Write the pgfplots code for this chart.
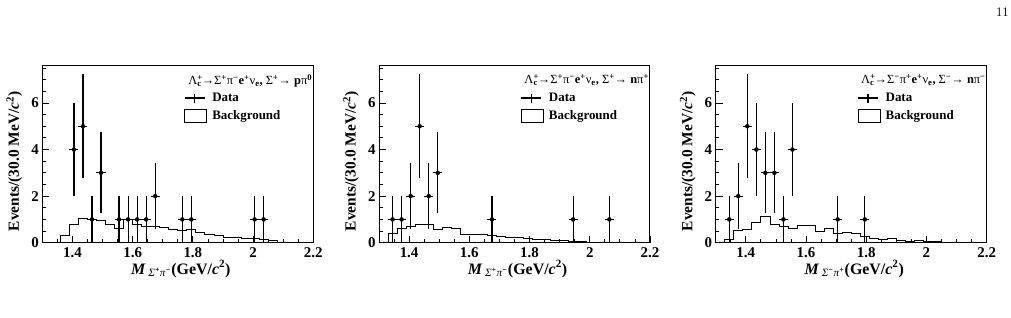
\documentclass[border=0pt]{standalone}
\usepackage{pgfplots}
\pgfplotsset{compat=1.18}
\usepackage{fontspec}
\setmainfont{Liberation Serif}

% Greek letters set in the lighter weight, as in the ROOT labels
\newcommand{\g}[1]{{\mdseries #1}}

\pgfplotsset{
  rootaxis/.style={
    scale only axis, width=271bp, height=177bp,
    xmin=1.3, xmax=2.2, ymin=0, ymax=7.6,
    xtick={1.4,1.6,1.8,2.0,2.2},
    minor xtick={1.35,1.45,1.5,1.55,1.65,1.7,1.75,1.85,1.9,1.95,2.05,2.1,2.15},
    ytick={0,2,4,6},
    minor ytick={0.5,1,1.5,2.5,3,3.5,4.5,5,5.5,6.5,7,7.5},
    tick align=inside, xtick pos=bottom, ytick pos=left,
    major tick length=7bp, minor tick length=3.5bp,
    every tick/.style={black, line width=0.8bp},
    axis line style={line width=1bp},
    /pgf/number format/assume math mode=true,
    tick label style={font=\bfseries\fontsize{15}{15}\selectfont},
    xticklabel style={anchor=base, yshift=-14.3bp},
    label style={font=\bfseries\fontsize{15.5}{15.5}\selectfont},
    xlabel style={at={(axis description cs:0.5,0)}, anchor=base, yshift=-31.3bp, xshift=3bp,
      font=\bfseries\fontsize{16}{16}\selectfont},
    ylabel style={at={(axis description cs:-0.103,0.46)}, anchor=center},
    ylabel={Events/(30.0 MeV/\textit{c}\textsuperscript{2})},
    legend style={at={(axis description cs:0.522,0.848)}, anchor=north west,
      draw=none, fill=none, inner sep=0pt, row sep=5.8bp,
      font=\bfseries\fontsize{13}{13}\selectfont,
      nodes={inner sep=0.3bp},
      /tikz/every odd column/.append style={column sep=5bp}},
    legend cell align=left,
  },
  databars/.style={only marks, mark=none,
    /pgfplots/error bars/x dir=both,
    /pgfplots/error bars/x fixed=0.015,
    /pgfplots/error bars/y dir=both,
    /pgfplots/error bars/y explicit,
    /pgfplots/error bars/error mark=none,
    /pgfplots/error bars/error bar style={draw=black, line width=1.2bp, solid},
    legend image code/.code={
      \draw[black, line width=1.2bp] (0bp,0bp)--(20bp,0bp) (10bp,-4.5bp)--(10bp,4.5bp);}},
  bkg/.style={const plot, black, line width=0.8bp, mark=none,
    legend image code/.code={\draw[black, line width=0.8bp] (0bp,-6.5bp) rectangle (22bp,6.5bp);}},
}

\begin{document}
\begin{tikzpicture}
\useasboundingbox (0,0) rectangle (1011bp,318bp);
\node[anchor=east, inner sep=0pt, font=\fontfamily{lmr}\selectfont\fontsize{13}{13}\selectfont] at (1009bp,306bp) {11};

% Sigma+ -> p pi0
\begin{axis}[rootaxis, at={(42.3bp,75.3bp)}, anchor=south west,
  xlabel={\textit{M}\,\textsubscript{\textit{\g{Σ}\textsuperscript{+}\g{π}\textsuperscript{−}}}(GeV/\textit{c}\textsuperscript{2})}]
\addplot[databars] table[x=x, y=y, y error=e] {
x y e
1.405 4 2.000
1.435 5 2.236
1.465 1 1.000
1.495 3 1.732
1.555 1 1.000
1.585 1 1.000
1.615 1 1.000
1.645 1 1.000
1.675 2 1.414
1.765 1 1.000
1.795 1 1.000
2.005 1 1.000
2.035 1 1.000
};
\addlegendentry{Data}
\addplot[bkg] table {
1.30 0
1.33 0
1.36 0.32
1.39 0.80
1.42 1.03
1.45 0.98
1.48 0.95
1.51 0.78
1.54 0.63
1.57 0.98
1.60 0.80
1.63 0.72
1.66 0.70
1.69 0.65
1.72 0.57
1.75 0.52
1.78 0.58
1.81 0.45
1.84 0.35
1.87 0.32
1.90 0.24
1.93 0.22
1.96 0.19
1.99 0.20
2.02 0.15
2.05 0.08
2.08 0
2.20 0
};
\addlegendentry{Background}
\node[anchor=north east, inner sep=0pt, font=\bfseries\fontsize{12.5}{12.5}\selectfont]
  at (axis description cs:0.997,0.952)
  {\g{Λ}\rlap{\textsuperscript{+}}\textsubscript{c}→\g{Σ}\textsuperscript{+}\g{π}\textsuperscript{−}e\textsuperscript{+}\g{ν}\textsubscript{e}, \g{Σ}\textsuperscript{+}→ p\g{π}\textsuperscript{0}};
\end{axis}

% Sigma+ -> n pi+
\begin{axis}[rootaxis, at={(379bp,75.3bp)}, anchor=south west,
  xlabel={\textit{M}\,\textsubscript{\textit{\g{Σ}\textsuperscript{+}\g{π}\textsuperscript{−}}}(GeV/\textit{c}\textsuperscript{2})}]
\addplot[databars] table[x=x, y=y, y error=e] {
x y e
1.345 1 1.000
1.375 1 1.000
1.405 2 1.414
1.435 5 2.236
1.465 2 1.414
1.495 3 1.732
1.675 1 1.000
1.945 1 1.000
2.065 1 1.000
};
\addlegendentry{Data}
\addplot[bkg] table {
1.30 0
1.33 0.40
1.36 0.62
1.39 0.70
1.42 0.80
1.45 0.80
1.48 0.57
1.51 0.66
1.54 0.60
1.57 0.37
1.60 0.37
1.63 0.34
1.66 0.30
1.69 0.28
1.72 0.24
1.75 0.22
1.78 0.18
1.81 0.16
1.84 0.14
1.87 0.12
1.90 0.10
1.93 0.07
1.96 0.04
1.99 0.02
2.02 0.02
2.05 0.02
2.08 0.01
2.11 0.01
2.14 0
2.20 0
};
\addlegendentry{Background}
\node[anchor=north east, inner sep=0pt, font=\bfseries\fontsize{12.5}{12.5}\selectfont]
  at (axis description cs:0.997,0.952)
  {\g{Λ}\rlap{\textsuperscript{+}}\textsubscript{c}→\g{Σ}\textsuperscript{+}\g{π}\textsuperscript{−}e\textsuperscript{+}\g{ν}\textsubscript{e}, \g{Σ}\textsuperscript{+}→ n\g{π}\textsuperscript{+}};
\end{axis}

% Sigma- -> n pi-
\begin{axis}[rootaxis, at={(715.7bp,75.3bp)}, anchor=south west,
  xlabel={\textit{M}\,\textsubscript{\textit{\g{Σ}\textsuperscript{−}\g{π}\textsuperscript{+}}}(GeV/\textit{c}\textsuperscript{2})}]
\addplot[databars] table[x=x, y=y, y error=e] {
x y e
1.345 1 1.000
1.375 2 1.414
1.405 5 2.236
1.435 4 2.000
1.465 3 1.732
1.495 3 1.732
1.525 1 1.000
1.555 4 2.000
1.705 1 1.000
1.795 1 1.000
};
\addlegendentry{Data}
\addplot[bkg] table {
1.30 0
1.33 0.14
1.36 0.53
1.39 0.58
1.42 0.87
1.45 1.14
1.48 0.80
1.51 0.69
1.54 0.62
1.57 0.74
1.60 0.75
1.63 0.50
1.66 0.62
1.69 0.40
1.72 0.45
1.75 0.40
1.78 0.28
1.81 0.20
1.84 0.16
1.87 0.17
1.90 0.12
1.93 0.07
1.96 0.12
1.99 0.04
2.02 0.05
2.05 0.03
2.08 0.02
2.11 0
2.20 0
};
\addlegendentry{Background}
\node[anchor=north east, inner sep=0pt, font=\bfseries\fontsize{12.5}{12.5}\selectfont]
  at (axis description cs:0.997,0.952)
  {\g{Λ}\rlap{\textsuperscript{+}}\textsubscript{c}→\g{Σ}\textsuperscript{−}\g{π}\textsuperscript{+}e\textsuperscript{+}\g{ν}\textsubscript{e}, \g{Σ}\textsuperscript{−}→ n\g{π}\textsuperscript{−}};
\end{axis}
\end{tikzpicture}
\end{document}
